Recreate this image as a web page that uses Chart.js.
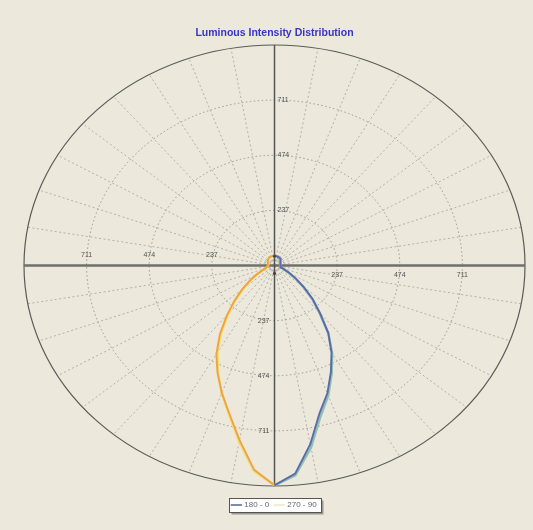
<!DOCTYPE html>
<html><head><meta charset="utf-8">
<style>html,body{margin:0;padding:0;background:#ece9dc;}#wrap{width:533px;height:530px;}</style>
<script src="https://cdn.jsdelivr.net/npm/chart.js@4.4.1/dist/chart.umd.min.js"></script>
</head><body><div id="wrap"><canvas id="c" width="533" height="530"></canvas></div>
<script>
// Gamma angles (degrees from nadir)
const gammaAngles = [0,5,10,15,20,25,30,35,40,45,50,55,60,65,70,75,80,85,90,95,100,105,110,115,120,125,130,135,140,145,150,155,160,165,170,175,180];
// Luminous intensity (cd) per C-plane
const c0   = [945,898,780,658,585,505,432,355,268,205,145,100,65,42,30,26,24,23,22,22,22,23,24,25,27,29,31,33,35,37,38,39,40,41,41,42,42];
const c180 = [945,882,762,660,583,510,440,360,280,215,160,115,80,55,40,32,28,26,25,25,25,26,27,28,29,31,33,35,36,38,39,40,41,41,42,42,42];
const c90  = [945,905,795,672,595,512,436,355,265,200,140,96,62,40,29,25,23,22,22,22,22,23,24,25,26,28,30,32,34,36,37,38,39,40,40,41,41];
const c270 = [945,888,770,665,585,505,430,350,272,208,152,110,76,52,38,30,27,25,24,24,24,25,26,27,28,30,32,34,35,37,38,39,40,40,41,41,41];
const seriesNames = ['180 - 0', '270 - 90'];
const ringValues = [237, 474, 711, 948];
const tickLabels = ['237', '474', '711'];
const scaleMax = 948;
const spokeStep = 10;

const FONT = "'Liberation Sans', Arial, sans-serif";

function planePoints(left, right) {
  const pts = [];
  for (let i = gammaAngles.length - 1; i >= 0; i--) {
    const g = gammaAngles[i] * Math.PI / 180;
    pts.push({x: -left[i] * Math.sin(g), y: -left[i] * Math.cos(g)});
  }
  for (let i = 1; i < gammaAngles.length; i++) {
    const g = gammaAngles[i] * Math.PI / 180;
    pts.push({x: right[i] * Math.sin(g), y: -right[i] * Math.cos(g)});
  }
  return pts;
}
const nLeft = gammaAngles.length;
function segColor(leftCol, rightCol) {
  return ctx => (ctx.p0DataIndex < nLeft - 1 ? leftCol : rightCol);
}

const gridPlugin = {
  id: 'polarGrid',
  beforeDraw(chart) {
    const ctx = chart.ctx;
    ctx.save();
    ctx.fillStyle = '#ece9dc';
    ctx.fillRect(0, 0, chart.width, chart.height);
    const hb = chart.legend && chart.legend.legendHitBoxes;
    if (hb && hb.length) {
      let l = Infinity, r = -Infinity, t = Infinity, b = -Infinity;
      hb.forEach(h => { l = Math.min(l, h.left); r = Math.max(r, h.left + h.width); t = Math.min(t, h.top); b = Math.max(b, h.top + h.height); });
      const x0 = Math.round(l - 3) + 0.5, x1 = Math.round(r + 4) + 0.5, y0 = Math.round(t - 3) + 0.5, y1 = Math.round(b + 3) + 0.5;
      ctx.fillStyle = '#9a988f';
      ctx.fillRect(x0 + 2, y0 + 2, x1 - x0, y1 - y0);
      ctx.fillStyle = '#ffffff';
      ctx.fillRect(x0, y0, x1 - x0, y1 - y0);
      ctx.strokeStyle = '#555';
      ctx.lineWidth = 1;
      ctx.strokeRect(x0, y0, x1 - x0, y1 - y0);
    }
    ctx.restore();
  },
  beforeDatasetsDraw(chart) {
    const ctx = chart.ctx, xs = chart.scales.x, ys = chart.scales.y;
    const cx = xs.getPixelForValue(0), cy = ys.getPixelForValue(0);
    ctx.save();
    ctx.strokeStyle = '#b3b0a4';
    ctx.lineWidth = 1;
    ctx.setLineDash([2, 2.5]);
    for (let a = spokeStep; a < 360; a += spokeStep) {
      if (a % 90 === 0) continue;
      const t = a * Math.PI / 180;
      ctx.beginPath();
      ctx.moveTo(cx, cy);
      ctx.lineTo(xs.getPixelForValue(scaleMax * Math.sin(t)), ys.getPixelForValue(scaleMax * Math.cos(t)));
      ctx.stroke();
    }
    ctx.strokeStyle = '#9a978d';
    ctx.setLineDash([1.5, 2.5]);
    ringValues.forEach((v, i) => {
      const rx = xs.getPixelForValue(v) - cx, ry = cy - ys.getPixelForValue(v);
      if (i === ringValues.length - 1) { ctx.setLineDash([]); ctx.strokeStyle = '#5a5a58'; ctx.lineWidth = 1.2; }
      ctx.beginPath();
      ctx.ellipse(cx, cy, rx, ry, 0, 0, Math.PI * 2);
      ctx.stroke();
    });
    ctx.setLineDash([]);
    ctx.strokeStyle = '#6f6f6c';
    ctx.lineWidth = 2.5;
    ctx.beginPath();
    ctx.moveTo(xs.getPixelForValue(-scaleMax), cy);
    ctx.lineTo(xs.getPixelForValue(scaleMax), cy);
    ctx.stroke();
    ctx.strokeStyle = '#555553';
    ctx.lineWidth = 1.5;
    ctx.beginPath();
    ctx.moveTo(cx, ys.getPixelForValue(scaleMax));
    ctx.lineTo(cx, ys.getPixelForValue(-scaleMax));
    ctx.stroke();
    ctx.restore();
  },
  afterDatasetsDraw(chart) {
    const ctx = chart.ctx, xs = chart.scales.x, ys = chart.scales.y;
    const cx = xs.getPixelForValue(0), cy = ys.getPixelForValue(0);
    ctx.save();
    ctx.font = '7px ' + FONT;
    ctx.fillStyle = '#505050';
    ctx.textBaseline = 'middle';
    tickLabels.forEach((lab, i) => {
      const v = ringValues[i];
      ctx.textAlign = 'center';
      ctx.fillText(lab, xs.getPixelForValue(-v), cy - 10);
      ctx.fillText(lab, xs.getPixelForValue(v), cy + 10);
      ctx.textAlign = 'left';
      ctx.fillText(lab, cx + 3, ys.getPixelForValue(v));
      ctx.textAlign = 'right';
      ctx.fillText(lab, cx - 5, ys.getPixelForValue(-v));
    });
    ctx.fillStyle = '#444';
    [[cx, ys.getPixelForValue(40)], [cx, ys.getPixelForValue(-34)]].forEach(p => {
      ctx.beginPath(); ctx.arc(p[0], p[1], 1.6, 0, Math.PI * 2); ctx.fill();
    });
    ctx.restore();
  }
};

new Chart(document.getElementById('c'), {
  type: 'scatter',
  data: {
    datasets: [
      {
        label: seriesNames[0],
        data: planePoints(c180, c0),
        showLine: true,
        borderColor: '#7a84aa',
        borderWidth: 1.9,
        pointRadius: 0,
        tension: 0,
        segment: { borderColor: segColor('#f0a243', '#5d6aa9') }
      },
      {
        label: seriesNames[1],
        data: planePoints(c270, c90),
        showLine: true,
        borderColor: '#f3eed2',
        borderWidth: 2.5,
        pointRadius: 0,
        tension: 0,
        segment: { borderColor: segColor('#f1e07a', '#8cc0b6') }
      }
    ]
  },
  options: {
    responsive: false,
    animation: false,
    devicePixelRatio: 1,
    layout: { padding: { left: 24, right: 8, top: 0, bottom: 11 } },
    scales: {
      x: { type: 'linear', min: -scaleMax, max: scaleMax, display: false },
      y: { type: 'linear', min: -scaleMax, max: scaleMax, display: false }
    },
    plugins: {
      title: {
        display: true,
        text: 'Luminous Intensity Distribution',
        color: '#3535c4',
        font: { family: FONT, size: 10.5, weight: 'bold', lineHeight: 1.2 },
        padding: { top: 26.7, bottom: 5.7 }
      },
      legend: {
        display: true,
        position: 'bottom',
        title: { display: true, text: '', font: { size: 5, lineHeight: 1.2 }, padding: { top: 3, bottom: 0 } },
        labels: {
          usePointStyle: true,
          pointStyle: 'line',
          color: '#666',
          font: { family: FONT, size: 8 },
          padding: 6
        }
      },
      tooltip: { enabled: false }
    }
  },
  plugins: [gridPlugin]
});
</script>
</body></html>
